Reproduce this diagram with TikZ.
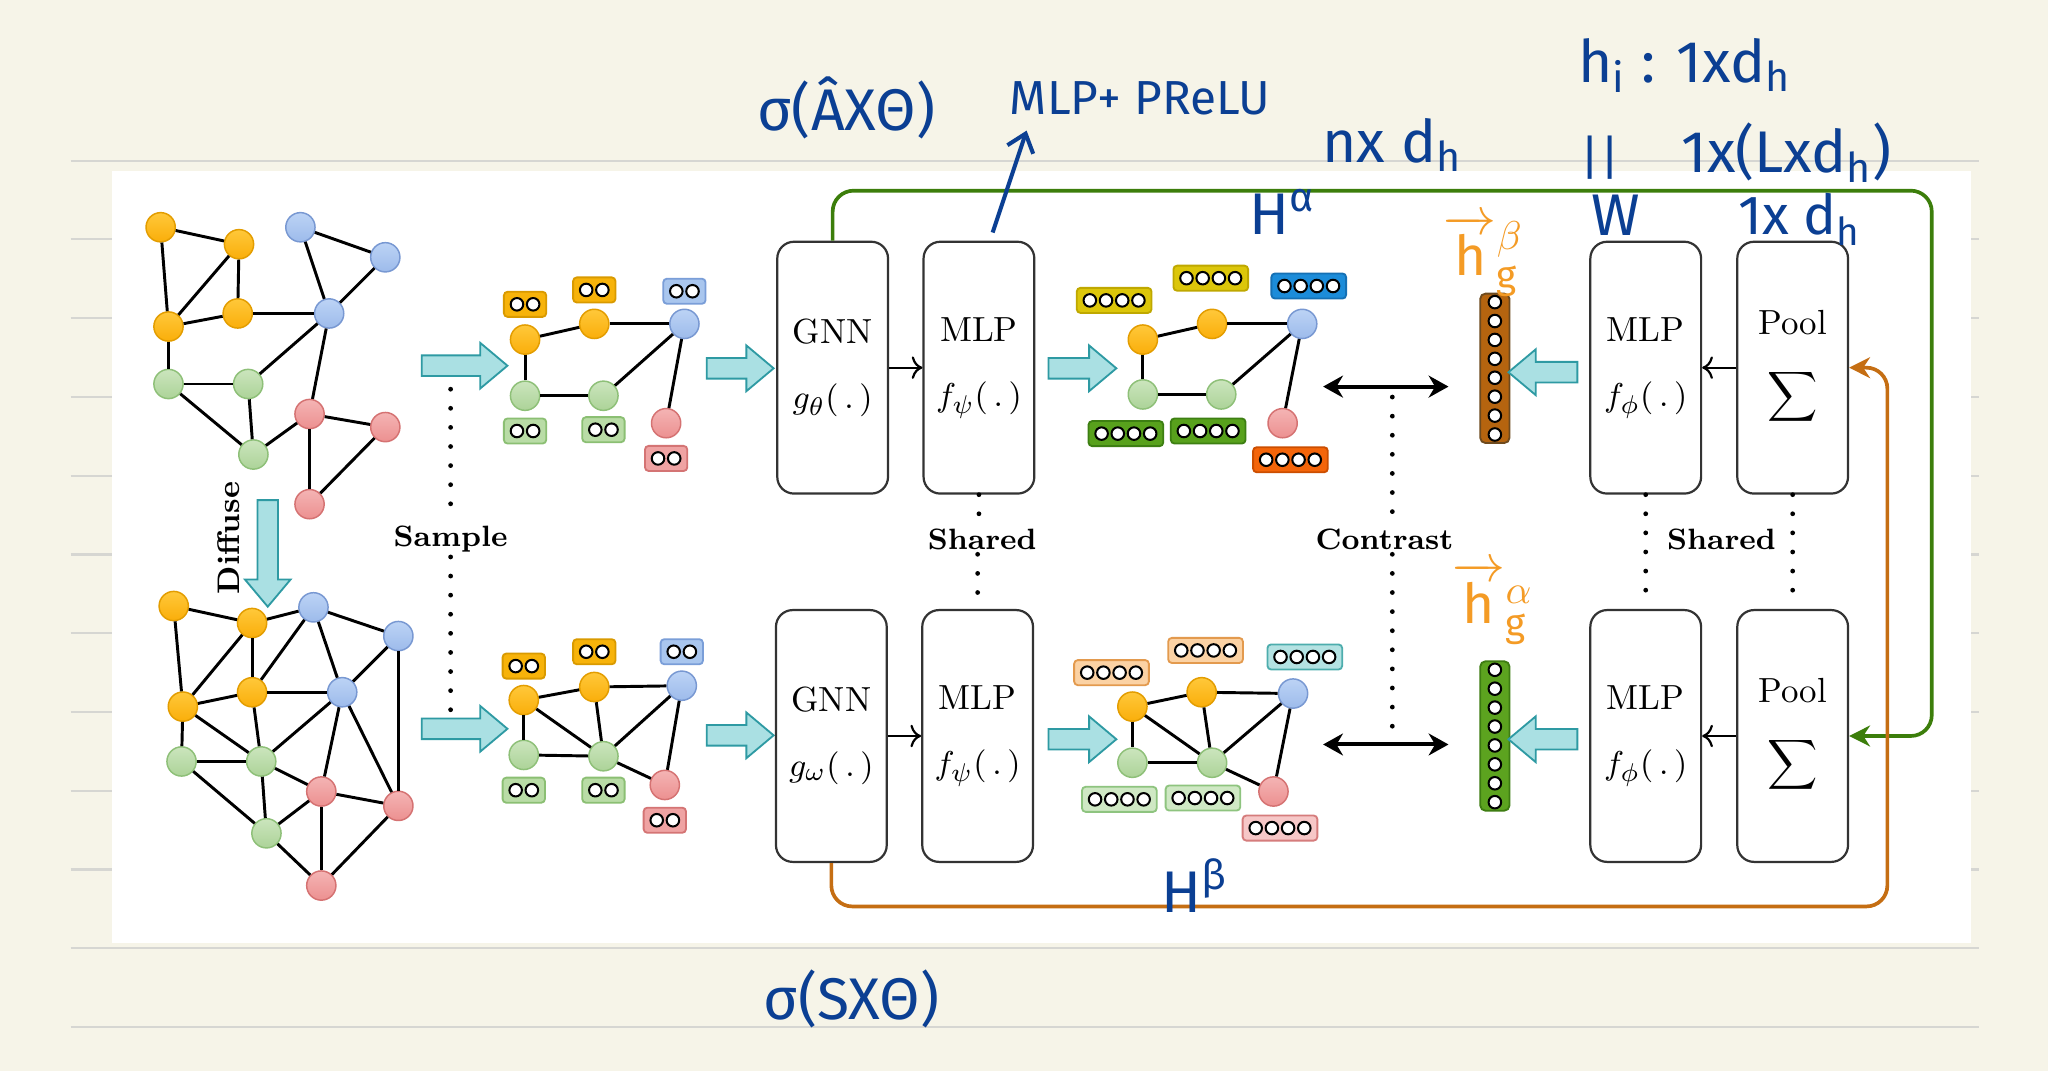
\documentclass[tikz,border=0pt]{standalone}
\usepackage{amsmath, amssymb}
\usepackage{fontspec}
\newfontfamily\handfont{Fira Sans}
\usetikzlibrary{arrows.meta, shapes.arrows, positioning}

\definecolor{paper}{HTML}{F6F4E8}
\definecolor{ruleline}{HTML}{D6D6D2}
\definecolor{arrfill}{HTML}{AAE0E3}
\definecolor{arrline}{HTML}{2E9AA3}
\definecolor{vor}{HTML}{FAAE0A}\definecolor{vorL}{HTML}{FFC83A}\definecolor{vorD}{HTML}{E39D00}
\definecolor{vblu}{HTML}{9DBBEB}\definecolor{vbluL}{HTML}{BCD3F5}\definecolor{vbluD}{HTML}{7898D2}
\definecolor{vgrn}{HTML}{ACD398}\definecolor{vgrnL}{HTML}{CBE5BD}\definecolor{vgrnD}{HTML}{8EC078}
\definecolor{vred}{HTML}{EC9090}\definecolor{vredL}{HTML}{F4B4B4}\definecolor{vredD}{HTML}{D57272}
\definecolor{labO}{HTML}{F7B30A}\definecolor{labOd}{HTML}{D99A00}
\definecolor{labB}{HTML}{A9C6EE}\definecolor{labBd}{HTML}{7A9ED8}
\definecolor{labG}{HTML}{B9DCA6}\definecolor{labGd}{HTML}{8BBF73}
\definecolor{labR}{HTML}{EFA3A3}\definecolor{labRd}{HTML}{D47474}
\definecolor{cyel}{HTML}{DCC60A}\definecolor{cyelD}{HTML}{BFA800}
\definecolor{cblu}{HTML}{1C8CD9}\definecolor{cbluD}{HTML}{1570B4}
\definecolor{cgrn}{HTML}{58A11C}\definecolor{cgrnD}{HTML}{3D7F12}
\definecolor{corg}{HTML}{F4650A}\definecolor{corgD}{HTML}{CC4E00}
\definecolor{lorg}{HTML}{FBD2A4}\definecolor{lorgD}{HTML}{E39A4E}
\definecolor{ltea}{HTML}{B4E2E2}\definecolor{lteaD}{HTML}{4DADAD}
\definecolor{lgrn}{HTML}{CFE8C4}\definecolor{lgrnD}{HTML}{8EC47F}
\definecolor{lred}{HTML}{F6C7C7}\definecolor{lredD}{HTML}{D57C7C}
\definecolor{barbrown}{HTML}{B5640F}\definecolor{barbrownD}{HTML}{6E4A1E}
\definecolor{bargreen}{HTML}{5CA31F}\definecolor{bargreenD}{HTML}{3E7D12}
\definecolor{pathgreen}{HTML}{3C7E0B}
\definecolor{pathorange}{HTML}{C56E13}
\definecolor{inkblue}{HTML}{0B3F93}
\definecolor{inkorange}{HTML}{F49B25}

\tikzset{
  vtx/.style={circle, minimum size=2.8mm, inner sep=0pt, line width=0.4pt},
  vo/.style={vtx, draw=vorD, top color=vorL, bottom color=vor},
  vb/.style={vtx, draw=vbluD, top color=vbluL, bottom color=vblu},
  vg/.style={vtx, draw=vgrnD, top color=vgrnL, bottom color=vgrn},
  vr/.style={vtx, draw=vredD, top color=vredL, bottom color=vred},
  edge/.style={line width=0.8pt},
  fbox/.style={rectangle, rounded corners=0.35mm, minimum height=2.4mm, inner sep=0pt, line width=0.5pt},
  fdot/.style={circle, draw=black, fill=white, line width=0.55pt, minimum size=1.2mm, inner sep=0pt},
  blk/.style={single arrow, draw=arrline, fill=arrfill, line width=0.5pt, inner xsep=0pt,
    inner ysep=0.9mm, single arrow head extend=1.2mm, single arrow tip angle=80},
  blkv/.style={blk, inner xsep=0.9mm, inner ysep=0pt},
  unit/.style={draw=black!80, rounded corners=1.6mm, minimum width=10.6mm, minimum height=24.1mm,
    line width=0.6pt, align=center, font=\fontsize{9.5}{11}\selectfont},
  tag/.style={font=\bfseries\fontsize{8}{9}\selectfont, inner sep=1pt},
  dots/.style={line width=1.3pt, line cap=round, dash pattern=on 0pt off 5.2pt},
  twoway/.style={line width=1.1pt, {Stealth[length=1.9mm, width=2.1mm]}-{Stealth[length=1.9mm, width=2.1mm]}},
  gpath/.style={draw=pathgreen, line width=1pt, rounded corners=2mm, -{Stealth[length=2mm, width=2mm]}},
  opath/.style={draw=pathorange, line width=1pt, rounded corners=2mm, -{Stealth[length=2mm, width=2mm]}},
  ink/.style={text=inkblue, font=\handfont\fontsize{16}{18}\selectfont, inner sep=0pt},
  inko/.style={text=inkorange, font=\handfont\fontsize{15}{16}\selectfont, inner sep=0pt},
  inkarrow/.style={draw=inkblue, line width=1.1pt, -{Straight Barb[length=1.6mm, width=2.6mm]}},
}

% feature box: name, x, y, fill, border, number of entries
\newcommand{\featbox}[6]{%
  \node[fbox, fill=#4, draw=#5, minimum width={#6*1.55mm+0.95mm}] (#1) at (#2,#3) {};
  \foreach \k in {1,...,#6}
    \node[fdot] (#1-\k) at ([xshift={(\k-(#6+1)/2)*1.55mm}]#1.center) {};
}
% graph embedding column: name, x, y, fill, border
\newcommand{\colbar}[5]{%
  \node[fbox, rounded corners=0.5mm, fill=#4, draw=#5, minimum width=2.8mm, minimum height=14.3mm] (#1) at (#2,#3) {};
  \foreach \k in {1,...,8}
    \node[fdot] (#1-\k) at ([yshift={(4.5-\k)*1.81mm}]#1.center) {};
}

\begin{document}
\begin{tikzpicture}[x=0.125mm, y=-0.125mm, >=To]

    \useasboundingbox (0,0) rectangle (1568,820);

    % ====================
    % 0. Notebook page
    % ====================
    \fill[paper] (0,0) rectangle (1568,820);
    \foreach \y in {123,183.3,...,787}
        \draw[ruleline, line width=0.6pt] (54,\y) -- (1515,\y);
    \fill[white] (85.5,131) rectangle (1509,722);

    % ====================
    % 1. Input graph and diffused graph
    % ====================
    \node[vo] (Ao1) at (123,174) {};
    \node[vo] (Ao2) at (183,187) {};
    \node[vo] (Ao3) at (129,250) {};
    \node[vo] (Ao4) at (182,240) {};
    \node[vb] (Ab1) at (230,174) {};
    \node[vb] (Ab2) at (295,197) {};
    \node[vb] (Ab3) at (252,240) {};
    \node[vg] (Ag1) at (129,294) {};
    \node[vg] (Ag2) at (190,294) {};
    \node[vg] (Ag3) at (194,348) {};
    \node[vr] (Ar1) at (237,317) {};
    \node[vr] (Ar2) at (295,327) {};
    \node[vr] (Ar3) at (237,386) {};
    \foreach \u/\v in {Ao1/Ao2, Ao1/Ao3, Ao2/Ao3, Ao2/Ao4, Ao3/Ao4, Ao4/Ab3, Ab1/Ab2, Ab1/Ab3,
                       Ab2/Ab3, Ao3/Ag1, Ag1/Ag2, Ag1/Ag3, Ag2/Ag3, Ag2/Ab3, Ab3/Ar1, Ag3/Ar1,
                       Ar1/Ar2, Ar1/Ar3, Ar2/Ar3} {
        \draw[edge] (\u) -- (\v);
    }

    \node[blkv, shape border rotate=270, minimum height=10.2mm] (diffArrow) at (205,419) {};
    \node[tag, rotate=90, font=\bfseries\fontsize{8.5}{9}\selectfont] (diffTag) at (175,412) {Diffuse};

    \node[vo] (Do1) at (133,464) {};
    \node[vo] (Do2) at (193,477) {};
    \node[vb] (Db1) at (240,465) {};
    \node[vb] (Db2) at (305,487) {};
    \node[vo] (Do3) at (140,541) {};
    \node[vo] (Do4) at (193,530) {};
    \node[vb] (Db3) at (262,530) {};
    \node[vg] (Dg1) at (139,583) {};
    \node[vg] (Dg2) at (200,583) {};
    \node[vr] (Dr1) at (246,606) {};
    \node[vr] (Dr2) at (305,617) {};
    \node[vg] (Dg3) at (204,638) {};
    \node[vr] (Dr3) at (246,678) {};
    \foreach \u/\v in {Do1/Do2, Do1/Do3, Do2/Db1, Do2/Do3, Do2/Do4, Do4/Db1, Db1/Db2, Db1/Db3,
                       Db2/Db3, Db2/Dr2, Do3/Do4, Do4/Db3, Do3/Dg1, Do3/Dg2, Do4/Dg2, Db3/Dg2,
                       Db3/Dr1, Db3/Dr2, Dg1/Dg2, Dg1/Dg3, Dg2/Dg3, Dg2/Dr1, Dr1/Dr2, Dr1/Dg3,
                       Dr1/Dr3, Dg3/Dr3, Dr2/Dr3} {
        \draw[edge] (\u) -- (\v);
    }

    % ====================
    % 2. Sampled subgraphs
    % ====================
    \node[blk, minimum height=8.2mm] (smpArrowA) at (351,280) {};
    \node[blk, minimum height=8.2mm] (smpArrowB) at (351,558) {};
    \node[tag] (smpTag) at (345,413) {Sample};
    \coordinate (smpTop) at (345,298);
    \coordinate (smpBot) at (345,548);
    \draw[dots] (smpTop) -- (smpTag.north);
    \draw[dots] (smpTag.south) -- (smpBot);

    \node[vo] (Sa) at (402,260) {};
    \node[vo] (Sb) at (455,248) {};
    \node[vb] (Sc) at (524,248) {};
    \node[vg] (Sd) at (402,303) {};
    \node[vg] (Se) at (462,303) {};
    \node[vr] (Sf) at (510,324) {};
    \featbox{Sla}{402}{233}{labO}{labOd}{2}
    \featbox{Slb}{455}{222}{labO}{labOd}{2}
    \featbox{Slc}{524}{223}{labB}{labBd}{2}
    \featbox{Sld}{402}{330}{labG}{labGd}{2}
    \featbox{Sle}{462}{329}{labG}{labGd}{2}
    \featbox{Slf}{510}{351}{labR}{labRd}{2}

    \node[vo] (Ta) at (401,536) {};
    \node[vo] (Tb) at (455,526) {};
    \node[vb] (Tc) at (522,525) {};
    \node[vg] (Td) at (401,578) {};
    \node[vg] (Te) at (462,579) {};
    \node[vr] (Tf) at (509,601) {};
    \featbox{Tla}{401}{510}{labO}{labOd}{2}
    \featbox{Tlb}{455}{499}{labO}{labOd}{2}
    \featbox{Tlc}{522}{499}{labB}{labBd}{2}
    \featbox{Tld}{401}{605}{labG}{labGd}{2}
    \featbox{Tle}{462}{605}{labG}{labGd}{2}
    \featbox{Tlf}{509}{628}{labR}{labRd}{2}

    % ====================
    % 3. Encoders
    % ====================
    \node[blk, minimum height=6.4mm] (encArrowA) at (562,282) {};
    \node[blk, minimum height=6.4mm] (encArrowB) at (562,563) {};

    \node[unit] (GNNt) at (637.5,281.5) {GNN\\[2.4mm]$g_{\theta}(\,.\,)$};
    \node[unit] (MLPt) at (749.5,281.5) {MLP\\[2.4mm]$f_{\psi}(\,.\,)$};
    \node[unit] (GNNb) at (636.5,563.5) {GNN\\[2.4mm]$g_{\omega}(\,.\,)$};
    \node[unit] (MLPb) at (748.5,563.5) {MLP\\[2.4mm]$f_{\psi}(\,.\,)$};
    \draw[->, line width=0.6pt] (GNNt) -- (MLPt);
    \draw[->, line width=0.6pt] (GNNb) -- (MLPb);

    \node[tag] (sharedL) at (752,413) {Shared};
    \draw[dots] (MLPt.south) -- (sharedL.north -| MLPt.south);
    \draw[dots] (sharedL.south -| MLPb.north) -- (MLPb.north);

    % ====================
    % 4. Node embeddings
    % ====================
    \node[blk, minimum height=6.5mm] (embArrowA) at (824,282) {};
    \node[blk, minimum height=6.5mm] (embArrowB) at (824,566) {};

    \node[vo] (Ea) at (875,260) {};
    \node[vo] (Eb) at (928,248) {};
    \node[vb] (Ec) at (997,248) {};
    \node[vg] (Ed) at (875,302) {};
    \node[vg] (Ee) at (935,302) {};
    \node[vr] (Ef) at (982,324) {};
    \featbox{Ela}{853}{230}{cyel}{cyelD}{4}
    \featbox{Elb}{927}{213}{cyel}{cyelD}{4}
    \featbox{Elc}{1002}{219}{cblu}{cbluD}{4}
    \featbox{Eld}{862}{332}{cgrn}{cgrnD}{4}
    \featbox{Ele}{925}{330}{cgrn}{cgrnD}{4}
    \featbox{Elf}{988}{352}{corg}{corgD}{4}

    \node[vo] (Fa) at (867,541) {};
    \node[vo] (Fb) at (920,530) {};
    \node[vb] (Fc) at (990,531) {};
    \node[vg] (Fd) at (867,584) {};
    \node[vg] (Fe) at (928,584) {};
    \node[vr] (Ff) at (975,606) {};
    \featbox{Fla}{851}{515}{lorg}{lorgD}{4}
    \featbox{Flb}{923}{498}{lorg}{lorgD}{4}
    \featbox{Flc}{999}{503}{ltea}{lteaD}{4}
    \featbox{Fld}{857}{612}{lgrn}{lgrnD}{4}
    \featbox{Fle}{921}{611}{lgrn}{lgrnD}{4}
    \featbox{Flf}{980}{634}{lred}{lredD}{4}

    \foreach \p in {S,E} {
        \foreach \u/\v in {a/b, b/c, a/d, d/e, e/c, c/f} {
            \draw[edge] (\p\u) -- (\p\v);
        }
    }
    \foreach \p in {T,F} {
        \foreach \u/\v in {a/b, b/c, a/d, a/e, b/e, c/e, c/f, d/e, e/f} {
            \draw[edge] (\p\u) -- (\p\v);
        }
    }

    % ====================
    % 5. Contrast
    % ====================
    \coordinate (ctAL) at (1013,296);
    \coordinate (ctAR) at (1109,296);
    \coordinate (ctBL) at (1013,570);
    \coordinate (ctBR) at (1109,570);
    \draw[twoway] (ctAL) -- (ctAR);
    \draw[twoway] (ctBL) -- (ctBR);
    \node[tag] (ctrTag) at (1060,413) {Contrast};
    \coordinate (ctrTop) at (1066,304);
    \coordinate (ctrBot) at (1066,566);
    \draw[dots] (ctrTop) -- (ctrTop |- ctrTag.north);
    \draw[dots] (ctrBot |- ctrTag.south) -- (ctrBot);

    \colbar{hgb}{1144.5}{282}{barbrown}{barbrownD}
    \colbar{hga}{1144.5}{563.5}{bargreen}{bargreenD}

    % ====================
    % 6. Readout
    % ====================
    \node[blk, shape border rotate=180, minimum height=6.6mm] (outArrowA) at (1186,285) {};
    \node[blk, shape border rotate=180, minimum height=6.6mm] (outArrowB) at (1186,566) {};

    \node[unit] (MLPrt) at (1260,281.5) {MLP\\[2.4mm]$f_{\phi}(\,.\,)$};
    \node[unit] (Poolt) at (1372.5,281.5) {Pool\\[2.9mm]$\displaystyle\sum$};
    \node[unit] (MLPrb) at (1260,563.5) {MLP\\[2.4mm]$f_{\phi}(\,.\,)$};
    \node[unit] (Poolb) at (1372.5,563.5) {Pool\\[2.9mm]$\displaystyle\sum$};
    \draw[->, line width=0.6pt] (Poolt) -- (MLPrt);
    \draw[->, line width=0.6pt] (Poolb) -- (MLPrb);

    \node[tag] (sharedR) at (1318,413) {Shared};
    \draw[dots] (MLPrt.south) -- (MLPrb.north);
    \draw[dots] (Poolt.south) -- (Poolb.north);

    % node embeddings sent to the pooling of the other view
    \coordinate (gTurn) at (1479,146);
    \coordinate (oTurn) at (1445,694);
    \draw[gpath] (GNNt.north) |- (gTurn) |- (Poolb.east);
    \draw[opath] (GNNb.south) |- (oTurn) |- (Poolt.east);

    % ====================
    % 7. Handwritten notes
    % ====================
    \node[ink] (noteA) at (648,83) {σ(ÂXΘ)};
    \node[ink, font=\handfont\fontsize{13}{15}\selectfont] (noteMlp) at (873,75) {MLP+ PReLU};
    \coordinate (inkFrom) at (760,178);
    \coordinate (inkTo) at (786,100);
    \draw[inkarrow] (inkFrom) -- (inkTo);
    \node[ink] (noteN) at (1066,111) {nx d\textsubscript{h}};
    \node[ink] (noteHa) at (982,162) {H\textsuperscript{α}};
    \node[ink] (noteHi) at (1290,50) {h\textsubscript{i} : 1xd\textsubscript{h}};
    \node[ink, font=\handfont\fontsize{13}{14}\selectfont] (noteEq) at (1225,121) {||};
    \node[ink] (noteW) at (1237,165) {W};
    \node[ink] (noteL) at (1368,117) {1x(Lxd\textsubscript{h})};
    \node[ink, font=\handfont\fontsize{15}{16}\selectfont] (noteD) at (1378,168) {1x d\textsubscript{h}};
    \node[ink] (noteHb) at (915,678) {H\textsuperscript{β}};
    \node[ink] (noteS) at (652,765) {σ(SXΘ)};
    \node[inko] (noteHgb) at (1136,196) {$\overrightarrow{\text{h}}{}^{\beta}_{\text{g}}$};
    \node[inko] (noteHga) at (1143,462) {$\overrightarrow{\text{h}}{}^{\alpha}_{\text{g}}$};

\end{tikzpicture}
\end{document}
